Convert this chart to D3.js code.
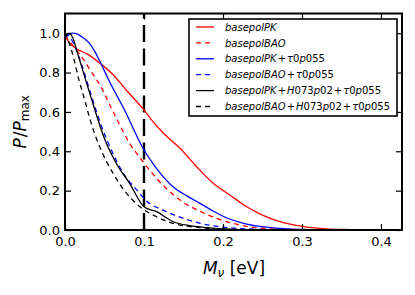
<!DOCTYPE html>
<html>
<head>
<meta charset="utf-8">
<script src="https://cdn.jsdelivr.net/npm/d3@7"></script>
<style>
  html, body { margin: 0; padding: 0; background: #ffffff; }
  svg { display: block; }
</style>
</head>
<body>
<svg id="chart" width="415" height="295"></svg>
<script>
// ---------------- DATA ----------------
const seriesNames = [
  "basepolPK",
  "basepolBAO",
  "basepolPK+τ0p055",
  "basepolBAO+τ0p055",
  "basepolPK+H073p02+τ0p055",
  "basepolBAO+H073p02+τ0p055"
];
const seriesColors = ["#ff0000", "#ff0000", "#0000ff", "#0000ff", "#000000", "#000000"];
const seriesDashed = [false, true, false, true, false, true];

const redSolidX = [0, 0.005, 0.015, 0.028, 0.045, 0.06, 0.08, 0.1, 0.11, 0.125, 0.145, 0.167, 0.188, 0.209, 0.23, 0.25, 0.27, 0.3, 0.33, 0.36, 0.4, 0.4266];
const redSolidY = [0.985, 0.955, 0.92, 0.895, 0.845, 0.793, 0.70, 0.61, 0.557, 0.49, 0.418, 0.32, 0.236, 0.177, 0.118, 0.076, 0.045, 0.018, 0.006, 0.002, 0.0, 0.0];

const redDashX = [0, 0.005, 0.0215, 0.034, 0.047, 0.057, 0.066, 0.082, 0.099, 0.116, 0.137, 0.15, 0.171, 0.2, 0.23, 0.26, 0.3, 0.35];
const redDashY = [0.985, 0.962, 0.877, 0.80, 0.717, 0.633, 0.56, 0.439, 0.346, 0.262, 0.18, 0.14, 0.095, 0.048, 0.018, 0.006, 0.001, 0.0];

const blueSolidX = [0, 0.005, 0.01, 0.015, 0.02, 0.03, 0.038, 0.045, 0.055, 0.066, 0.076, 0.083, 0.099, 0.116, 0.137, 0.155, 0.171, 0.188, 0.2, 0.23, 0.26, 0.3, 0.35];
const blueSolidY = [0.975, 0.995, 1.0, 0.997, 0.985, 0.953, 0.905, 0.85, 0.765, 0.68, 0.605, 0.545, 0.414, 0.312, 0.219, 0.172, 0.135, 0.095, 0.07, 0.03, 0.012, 0.003, 0.0];

const blueDashX = [0, 0.007, 0.0215, 0.032, 0.04, 0.046, 0.057, 0.074, 0.091, 0.103, 0.124, 0.15, 0.171, 0.2, 0.25, 0.3];
const blueDashY = [1.0, 0.975, 0.835, 0.70, 0.60, 0.53, 0.422, 0.287, 0.203, 0.148, 0.101, 0.059, 0.034, 0.015, 0.003, 0.0];

const blackSolidX = [0, 0.005, 0.01, 0.015, 0.0257, 0.034, 0.0426, 0.0485, 0.065, 0.082, 0.1, 0.116, 0.137, 0.158, 0.18, 0.2, 0.25];
const blackSolidY = [0.985, 1.0, 0.975, 0.91, 0.768, 0.66, 0.55, 0.48, 0.338, 0.236, 0.118, 0.093, 0.042, 0.022, 0.012, 0.006, 0.0];

const blackDashX = [0, 0.0025, 0.009, 0.0173, 0.0257, 0.032, 0.044, 0.061, 0.078, 0.095, 0.116, 0.137, 0.171, 0.2, 0.25];
const blackDashY = [1.0, 0.98, 0.903, 0.768, 0.65, 0.557, 0.422, 0.287, 0.186, 0.118, 0.067, 0.034, 0.012, 0.004, 0.0];

const seriesX = [redSolidX, redDashX, blueSolidX, blueDashX, blackSolidX, blackDashX];
const seriesY = [redSolidY, redDashY, blueSolidY, blueDashY, blackSolidY, blackDashY];

const xTicks = [0.0, 0.1, 0.2, 0.3, 0.4];
const xTickLabels = ["0.0", "0.1", "0.2", "0.3", "0.4"];
const yTicks = [0.0, 0.2, 0.4, 0.6, 0.8, 1.0];
const yTickLabels = ["0.0", "0.2", "0.4", "0.6", "0.8", "1.0"];
const xDomain = [0, 0.4266];
const yDomain = [0, 1.1];
const vLineX = 0.1;

// ---------------- LAYOUT ----------------
const L = 65, R = 402, T = 13.5, B = 230;
const FONT = "'DejaVu Sans', 'Bitstream Vera Sans', sans-serif";

const svg = d3.select("#chart");
svg.append("rect").attr("width", 415).attr("height", 295).attr("fill", "#fff");

const x = d3.scaleLinear().domain(xDomain).range([L, R]);
const y = d3.scaleLinear().domain(yDomain).range([B, T]);

svg.append("clipPath").attr("id", "clip").append("rect")
  .attr("x", L).attr("y", T).attr("width", R - L).attr("height", B - T);

const plot = svg.append("g").attr("clip-path", "url(#clip)");

const line = d3.line().x(d => x(d[0])).y(d => y(d[1])).curve(d3.curveMonotoneX);

// vertical dashed line
plot.append("path")
  .attr("d", d3.line()([[x(vLineX), y(yDomain[0])], [x(vLineX), y(yDomain[1])]]))
  .attr("stroke", "#000").attr("stroke-width", 2.4)
  .attr("stroke-dasharray", "17,6.5").attr("fill", "none");

seriesX.forEach((xs, i) => {
  const pts = xs.map((v, j) => [v, seriesY[i][j]]);
  plot.append("path")
    .attr("d", line(pts))
    .attr("fill", "none")
    .attr("stroke", seriesColors[i])
    .attr("stroke-width", 1.3)
    .attr("stroke-dasharray", seriesDashed[i] ? "5,4" : null);
});

// ---------------- AXES ----------------
function styleAxis(g) {
  g.select(".domain").remove();
  g.selectAll(".tick line").attr("stroke", "#000").attr("stroke-width", 1.2);
  g.selectAll(".tick text").attr("font-family", FONT).attr("font-size", 13).attr("fill", "#000");
}
const TS = 6;
svg.append("g").attr("transform", `translate(0,${B})`)
  .call(d3.axisBottom(x).tickValues(xTicks).tickFormat((d, i) => xTickLabels[i]).tickSizeInner(-TS).tickSizeOuter(0).tickPadding(6.5))
  .call(styleAxis);
svg.append("g").attr("transform", `translate(0,${T})`)
  .call(d3.axisTop(x).tickValues(xTicks).tickFormat("").tickSizeInner(-TS).tickSizeOuter(0))
  .call(styleAxis);
svg.append("g").attr("transform", `translate(${L},0)`)
  .call(d3.axisLeft(y).tickValues(yTicks).tickFormat((d, i) => yTickLabels[i]).tickSizeInner(-TS).tickSizeOuter(0).tickPadding(5))
  .call(styleAxis);
svg.append("g").attr("transform", `translate(${R},0)`)
  .call(d3.axisRight(y).tickValues(yTicks).tickFormat("").tickSizeInner(-TS).tickSizeOuter(0))
  .call(styleAxis);

svg.append("rect").attr("x", L).attr("y", T).attr("width", R - L).attr("height", B - T)
  .attr("fill", "none").attr("stroke", "#000").attr("stroke-width", 2);

// ---------------- AXIS LABELS ----------------
const xl = svg.append("text").attr("x", (L + R) / 2 + 0.5).attr("y", 274)
  .attr("text-anchor", "middle").attr("font-family", FONT).attr("font-size", 17).attr("fill", "#000");
xl.append("tspan").attr("font-style", "italic").text("M");
xl.append("tspan").attr("font-style", "italic").attr("font-size", 12).attr("dy", 3).text("ν");
xl.append("tspan").attr("dy", -3).text(" [eV]");

const yl = svg.append("text").attr("transform", `translate(26,${(T + B) / 2}) rotate(-90)`)
  .attr("text-anchor", "middle").attr("font-family", FONT).attr("font-size", 17).attr("fill", "#000");
yl.append("tspan").attr("font-style", "italic").text("P");
yl.append("tspan").attr("dx", 1).text("/");
yl.append("tspan").attr("font-style", "italic").text("P");
yl.append("tspan").attr("font-size", 12).attr("dy", 3).text("max");

// ---------------- LEGEND ----------------
const lg = svg.append("g");
lg.append("rect").attr("x", 189).attr("y", 19).attr("width", 208).attr("height", 97)
  .attr("fill", "#fff").attr("stroke", "#000").attr("stroke-width", 1.6);

function addMathText(sel, s) {
  const re = /([A-Za-zτ]+)|([0-9]+)|(\+)/g;
  let m, pendingDx = 0;
  while ((m = re.exec(s)) !== null) {
    let ts;
    if (m[1]) ts = sel.append("tspan").attr("font-style", "italic").text(m[1]);
    else if (m[2]) ts = sel.append("tspan").attr("font-style", "normal").text(m[2]);
    else ts = sel.append("tspan").attr("font-style", "normal").attr("dx", 1).text("+");
    if (pendingDx) { ts.attr("dx", pendingDx); pendingDx = 0; }
    if (m[3]) pendingDx = 1;
  }
}

seriesNames.forEach((name, i) => {
  const yy = 27 + i * 15.9;
  lg.append("line").attr("x1", 196).attr("x2", 214).attr("y1", yy).attr("y2", yy)
    .attr("stroke", seriesColors[i]).attr("stroke-width", 1.3)
    .attr("stroke-dasharray", seriesDashed[i] ? "5,4" : null);
  const t = lg.append("text").attr("x", 225).attr("y", yy + 3.6)
    .attr("font-family", FONT).attr("font-size", 10).attr("fill", "#000");
  addMathText(t, name);
});
</script>
</body>
</html>
